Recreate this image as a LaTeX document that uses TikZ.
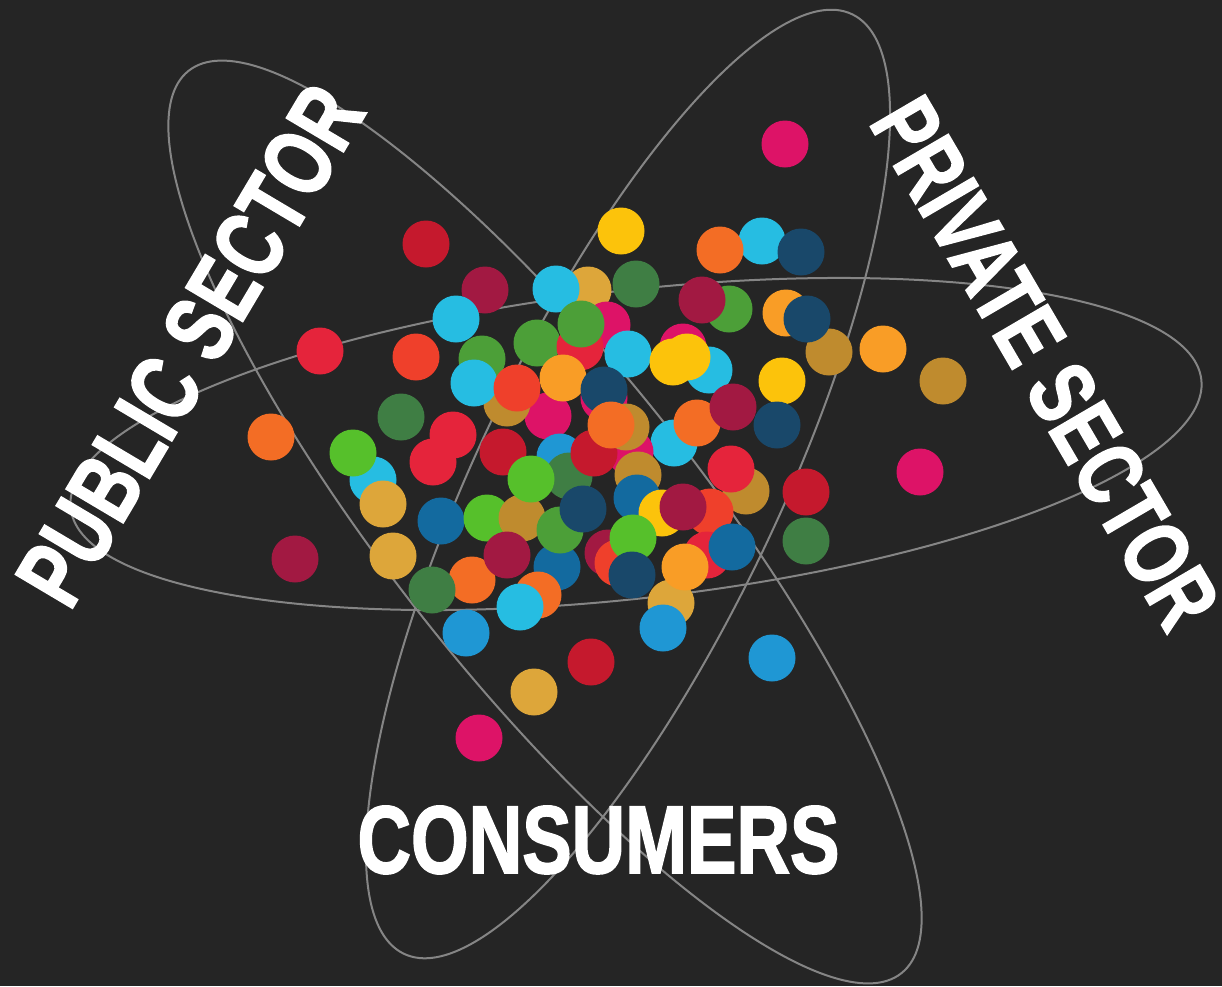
\documentclass[tikz,border=0pt]{standalone}
\usepackage{fontspec}
\usepackage{graphicx}
\usetikzlibrary{shapes.geometric}
\newfontfamily\lblfont{Liberation Sans}[FakeBold=2]
\definecolor{bgc}{HTML}{252525}
\definecolor{orbitc}{HTML}{858585}
\definecolor{cRed}{HTML}{E5243B}
\definecolor{cMus}{HTML}{DDA63A}
\definecolor{cGrn}{HTML}{4C9F38}
\definecolor{cDRd}{HTML}{C5192D}
\definecolor{cOrR}{HTML}{EF402B}
\definecolor{cCyn}{HTML}{26BDE2}
\definecolor{cYel}{HTML}{FCC30B}
\definecolor{cBur}{HTML}{A21942}
\definecolor{cOrg}{HTML}{F36D25}
\definecolor{cMag}{HTML}{DD1367}
\definecolor{cLOr}{HTML}{F99D26}
\definecolor{cBrn}{HTML}{BF8B2E}
\definecolor{cDGr}{HTML}{3F7E44}
\definecolor{cBlu}{HTML}{1F97D4}
\definecolor{cLGr}{HTML}{56C02B}
\definecolor{cDBl}{HTML}{136A9F}
\definecolor{cNav}{HTML}{19486A}
\newcommand\sdgdot[4]{\node[dot,fill=#2] (#1) at (#3,-#4) {};}
\begin{document}
\begin{tikzpicture}[x=1pt,y=1pt,
  orbit/.style={ellipse, draw=orbitc, line width=2pt, inner sep=0pt, outer sep=0pt},
  dot/.style={circle, inner sep=0pt, outer sep=0pt, minimum size=47pt, draw=none},
  lbl/.style={text=white, inner sep=0pt, anchor=base}]
\fill[bgc] (0,0) rectangle (1222,-986);
\useasboundingbox (0,0) rectangle (1222,-986);
% orbits
\node[orbit, minimum width=1138pt, minimum height=308pt, rotate=6.5] (orbA) at (636,-444) {};
\node[orbit, minimum width=1150pt, minimum height=310pt, rotate=-51.7] (orbB) at (545,-522) {};
\node[orbit, minimum width=1041pt, minimum height=301pt, rotate=64.5] (orbC) at (628,-484) {};
% dots
\sdgdot{d1}{cMag}{785}{144}
\sdgdot{d2}{cDRd}{426}{244}
\sdgdot{d3}{cYel}{621}{231}
\sdgdot{d4}{cCyn}{762}{241}
\sdgdot{d5}{cOrg}{720}{250}
\sdgdot{d6}{cNav}{801}{252}
\sdgdot{d7}{cMus}{588}{290}
\sdgdot{d8}{cDGr}{636}{284}
\sdgdot{d9}{cCyn}{556}{289}
\sdgdot{d10}{cBur}{485}{290}
\sdgdot{d11}{cCyn}{456}{319}
\sdgdot{d12}{cGrn}{729}{309}
\sdgdot{d13}{cBur}{702}{300}
\sdgdot{d14}{cLOr}{786}{313}
\sdgdot{d15}{cBrn}{829}{352}
\sdgdot{d16}{cNav}{807}{319}
\sdgdot{d17}{cRed}{320}{351}
\sdgdot{d18}{cOrR}{416}{357}
\sdgdot{d19}{cGrn}{482}{359}
\sdgdot{d21}{cGrn}{537}{343}
\sdgdot{d22}{cMag}{607}{325}
\sdgdot{d23}{cRed}{580}{347}
\sdgdot{d24}{cGrn}{581}{324}
\sdgdot{d25}{cLOr}{883}{349}
\sdgdot{d26}{cBrn}{943}{381}
\sdgdot{d27}{cCyn}{628}{354}
\sdgdot{d28}{cMag}{683}{347}
\sdgdot{d29}{cCyn}{709}{370}
\sdgdot{d30}{cYel}{673}{362}
\sdgdot{d31}{cYel}{687}{357}
\sdgdot{d32}{cYel}{782}{381}
\sdgdot{d33}{cMag}{548}{416}
\sdgdot{d34}{cBrn}{507}{403}
\sdgdot{d20}{cCyn}{474}{383}
\sdgdot{d35}{cOrR}{517}{388}
\sdgdot{d36}{cLOr}{563}{378}
\sdgdot{d37}{cMag}{604}{398}
\sdgdot{d38}{cNav}{604}{390}
\sdgdot{d39}{cDGr}{401}{417}
\sdgdot{d40}{cOrg}{271}{437}
\sdgdot{d41}{cRed}{453}{435}
\sdgdot{d42}{cRed}{433}{462}
\sdgdot{d43}{cCyn}{373}{480}
\sdgdot{d44}{cLGr}{353}{453}
\sdgdot{d45}{cMus}{383}{504}
\sdgdot{d46}{cDRd}{503}{452}
\sdgdot{d49}{cCyn}{674}{443}
\sdgdot{d50}{cOrg}{697}{423}
\sdgdot{d51}{cNav}{777}{425}
\sdgdot{d52}{cBur}{733}{407}
\sdgdot{d53}{cBlu}{560}{457}
\sdgdot{d54}{cMag}{630}{452}
\sdgdot{d55}{cDGr}{569}{476}
\sdgdot{d56}{cDRd}{594}{453}
\sdgdot{d47}{cBrn}{626}{427}
\sdgdot{d48}{cOrg}{611}{425}
\sdgdot{d57}{cBrn}{638}{475}
\sdgdot{d58}{cDBl}{637}{498}
\sdgdot{d59}{cBrn}{746}{491}
\sdgdot{d60}{cRed}{731}{469}
\sdgdot{d61}{cDRd}{806}{492}
\sdgdot{d62}{cMag}{920}{472}
\sdgdot{d63}{cBur}{295}{559}
\sdgdot{d64}{cDBl}{441}{521}
\sdgdot{d65}{cLGr}{487}{518}
\sdgdot{d66}{cBrn}{522}{518}
\sdgdot{d67}{cLGr}{531}{479}
\sdgdot{d68}{cDBl}{557}{567}
\sdgdot{d69}{cGrn}{560}{530}
\sdgdot{d70}{cNav}{583}{509}
\sdgdot{d71}{cYel}{662}{513}
\sdgdot{d72}{cOrR}{710}{512}
\sdgdot{d73}{cBur}{683}{507}
\sdgdot{d74}{cDGr}{806}{541}
\sdgdot{d75}{cMus}{393}{556}
\sdgdot{d84}{cOrg}{472}{580}
\sdgdot{d76}{cBur}{507}{555}
\sdgdot{d77}{cBur}{608}{553}
\sdgdot{d78}{cOrR}{618}{563}
\sdgdot{d79}{cLGr}{633}{538}
\sdgdot{d80}{cNav}{632}{575}
\sdgdot{d88}{cMus}{671}{603}
\sdgdot{d81}{cRed}{707}{555}
\sdgdot{d82}{cDBl}{732}{547}
\sdgdot{d83}{cLOr}{685}{567}
\sdgdot{d85}{cDGr}{432}{590}
\sdgdot{d86}{cOrg}{538}{595}
\sdgdot{d87}{cCyn}{520}{607}
\sdgdot{d89}{cBlu}{663}{628}
\sdgdot{d90}{cBlu}{466}{633}
\sdgdot{d91}{cDRd}{591}{662}
\sdgdot{d92}{cMus}{534}{692}
\sdgdot{d93}{cMag}{479}{738}
\sdgdot{d94}{cBlu}{772}{658}
% labels
\node[lbl, rotate=59.3] (pub) at (218.5,-362) {\resizebox{582pt}{67pt}{\lblfont\bfseries PUBLIC SECTOR}};
\node[lbl, rotate=-59.7] (pri) at (1018,-379) {\resizebox{594pt}{64pt}{\lblfont\bfseries PRIVATE SECTOR}};
\node[lbl] (con) at (598.5,-873) {\resizebox{482pt}{67pt}{\lblfont\bfseries CONSUMERS}};
\end{tikzpicture}
\end{document}
